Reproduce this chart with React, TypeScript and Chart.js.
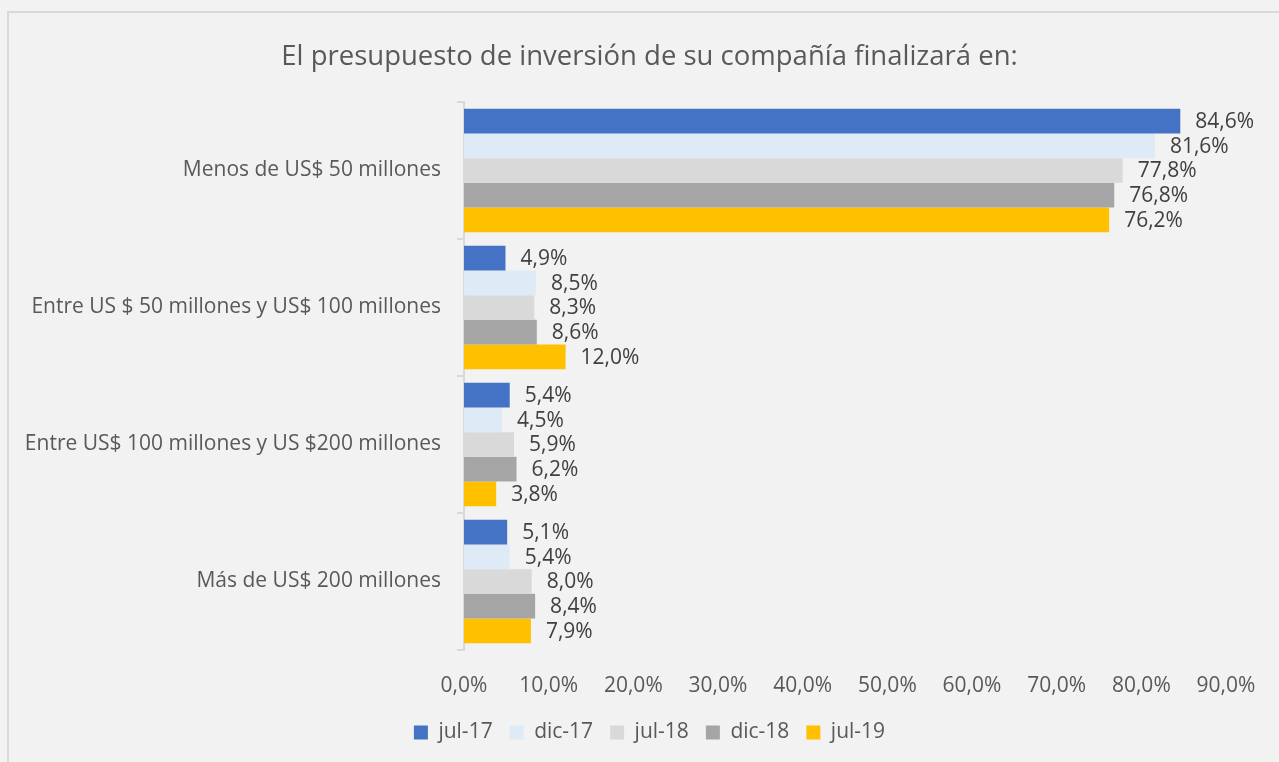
import React, { useEffect, useRef } from "react";
import { Chart, registerables } from "chart.js";

Chart.register(...registerables);

const categories = [
  "Menos de US$ 50 millones",
  "Entre US $ 50 millones y US$ 100 millones",
  "Entre US$ 100 millones y US $200 millones",
  "Más de US$ 200 millones",
];
const seriesNames = ["jul-17", "dic-17", "jul-18", "dic-18", "jul-19"];
const jul17 = [84.6, 4.9, 5.4, 5.1];
const dic17 = [81.6, 8.5, 4.5, 5.4];
const jul18 = [77.8, 8.3, 5.9, 8.0];
const dic18 = [76.8, 8.6, 6.2, 8.4];
const jul19 = [76.2, 12.0, 3.8, 7.9];
const seriesColors = ["#4472C4", "#DEEBF7", "#D9D9D9", "#A5A5A5", "#FFC000"];
const xTicks = [0, 10, 20, 30, 40, 50, 60, 70, 80, 90];

const FONT = "'Open Sans', Lato, sans-serif";
const fmt = (v: number) => v.toFixed(1).replace(".", ",") + "%";

const valueLabels = {
  id: "valueLabels",
  afterDatasetsDraw(chart: any) {
    const ctx = chart.ctx;
    ctx.save();
    ctx.font = `21px ${FONT}`;
    ctx.fillStyle = "#404040";
    ctx.textAlign = "left";
    ctx.textBaseline = "middle";
    chart.data.datasets.forEach((ds: any, i: number) => {
      const meta = chart.getDatasetMeta(i);
      meta.data.forEach((bar: any, j: number) => {
        ctx.fillText(fmt(ds.data[j]), bar.x + 15, bar.y + 1);
      });
    });
    ctx.restore();
  },
};

// shift title and legend to be centred on the whole frame like the original
const centreShift = {
  id: "centreShift",
  afterLayout(chart: any) {
    const dx = 27;
    [chart.titleBlock, chart.legend].forEach((b: any) => {
      if (b) {
        b.left += dx;
        b.right += dx;
      }
    });
  },
};

export default function App() {
  const ref = useRef<HTMLCanvasElement>(null);
  useEffect(() => {
    const allSeries = [jul17, dic17, jul18, dic18, jul19];
    const chart = new Chart(ref.current!, {
      type: "bar",
      data: {
        labels: categories,
        datasets: allSeries.map((d, i) => ({
          label: seriesNames[i],
          data: d,
          backgroundColor: seriesColors[i],
          barPercentage: 1,
          categoryPercentage: 0.9,
        })),
      },
      options: {
        indexAxis: "y",
        animation: false,
        responsive: false,
        maintainAspectRatio: false,
        layout: { padding: { left: 10, right: 53, top: 0, bottom: 10 } },
        scales: {
          x: {
            min: 0,
            max: 90,
            afterBuildTicks: (axis: any) => {
              axis.ticks = xTicks.map((v) => ({ value: v }));
            },
            afterFit: (axis: any) => {
              axis.height = 55;
            },
            ticks: {
              callback: (v: any) => fmt(Number(v)),
              color: "#595959",
              font: { family: FONT, size: 21 },
              padding: 15,
              maxRotation: 0,
            },
            grid: { display: false },
            border: { display: false },
          },
          y: {
            afterFit: (axis: any) => {
              axis.width = 445;
            },
            ticks: {
              color: "#595959",
              font: { family: FONT, size: 21 },
              padding: 16,
            },
            grid: {
              offset: true,
              drawOnChartArea: false,
              drawTicks: true,
              tickLength: 7,
              color: "#D9D9D9",
              lineWidth: 2,
            },
            border: { display: true, color: "#D9D9D9", width: 2 },
          },
        },
        plugins: {
          title: {
            display: true,
            text: "El presupuesto de inversión de su compañía finalizará en:",
            color: "#595959",
            font: { family: FONT, size: 27.5, weight: "normal" },
            padding: { top: 28, bottom: 28 },
          },
          legend: {
            position: "bottom",
            labels: {
              color: "#595959",
              font: { family: FONT, size: 21 },
              boxWidth: 14,
              boxHeight: 14,
              padding: 17,
            },
          },
          tooltip: { enabled: false },
        },
      },
      plugins: [valueLabels, centreShift],
    });
    return () => chart.destroy();
  }, []);

  return (
    <div
      style={{
        position: "fixed",
        inset: 0,
        background: "#F2F2F2",
      }}
    >
      <div
        style={{
          position: "absolute",
          left: 7,
          top: 11,
          width: 1280,
          height: 760,
          border: "2px solid #D9D9D9",
          boxSizing: "border-box",
        }}
      >
        <canvas ref={ref} width={1270} height={750} style={{ display: "block" }} />
      </div>
    </div>
  );
}
